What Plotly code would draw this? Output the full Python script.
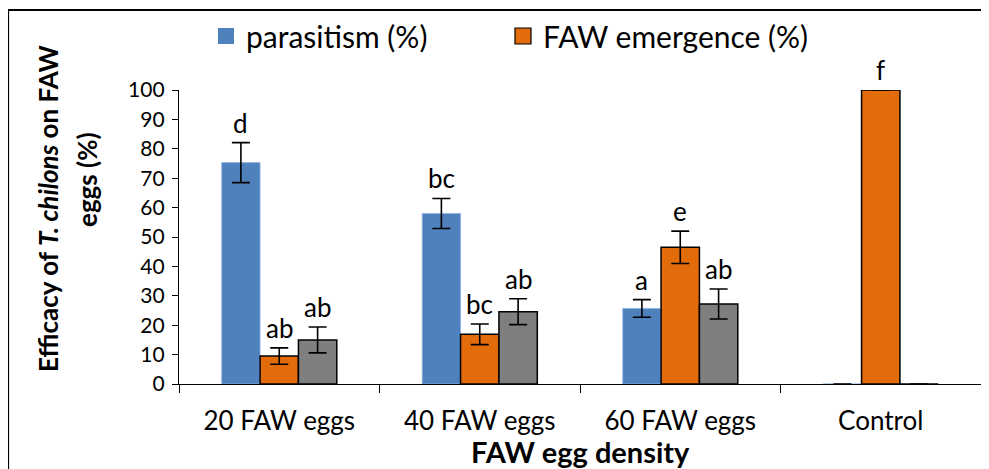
import plotly.graph_objects as go

categories = ["20 FAW eggs", "40 FAW eggs", "60 FAW eggs", "Control"]
parasitism = [75.3, 58.0, 25.7, 0]
parasitism_err = [6.8, 5.1, 3.0, 0]
emergence = [9.5, 16.9, 46.5, 100]
emergence_err = [2.8, 3.5, 5.5, 0]
third = [15.0, 24.6, 27.2, 0]
third_err = [4.4, 4.4, 5.1, 0]
letters_par = ["d", "bc", "a", ""]
letters_em = ["ab", "bc", "e", "f"]
letters_third = ["ab", "ab", "ab", ""]
y_ticks = [0, 10, 20, 30, 40, 50, 60, 70, 80, 90, 100]

BLUE = "#4F81BD"
ORANGE = "#E36C0A"
GRAY = "#7F7F7F"
FONT = "Lato"

OFF = 8  # page body margin
W, H = 989 - OFF, 469 - OFF
# plot area in page pixels: x 179..981, y 90..384
L, R, T, B = 179 - OFF, 989 - 981, 90 - OFF, 469 - 384
pw = W - L - R
ph = H - T - B
bargap = 0.426
bw = (1 - bargap) / 3

def px_x(p):  # page pixel -> paper
    return (p - OFF - L) / pw

def px_y(p):
    return (H - B - (p - OFF)) / ph

fig = go.Figure()
err_style = dict(type="data", thickness=1.6, width=9, color="black")
fig.add_trace(go.Bar(x=categories, y=parasitism, name="parasitism (%)",
                     marker=dict(color=BLUE, line=dict(color="#8EB4E3", width=0.8)),
                     error_y=dict(array=parasitism_err, **err_style), showlegend=False))
fig.add_trace(go.Bar(x=categories, y=emergence, name="FAW emergence (%)",
                     marker=dict(color=ORANGE, line=dict(color="black", width=1.5)),
                     error_y=dict(array=emergence_err, **err_style), showlegend=False))
fig.add_trace(go.Bar(x=categories, y=third, name="other (%)",
                     marker=dict(color=GRAY, line=dict(color="black", width=1.5)),
                     error_y=dict(array=third_err, **err_style), showlegend=False))

# legend entries
fig.add_trace(go.Scatter(x=[None], y=[None], mode="markers", name="parasitism (%)",
                         legend="legend",
                         marker=dict(symbol="square", size=16, color=BLUE,
                                     line=dict(width=0))))
fig.add_trace(go.Scatter(x=[None], y=[None], mode="markers", name="FAW emergence (%)",
                         legend="legend2",
                         marker=dict(symbol="square", size=16, color=ORANGE,
                                     line=dict(color="black", width=1.2))))

annotations = []
for series, errs, labels, k in [(parasitism, parasitism_err, letters_par, -1),
                                (emergence, emergence_err, letters_em, 0),
                                (third, third_err, letters_third, 1)]:
    for i, (v, e, lab) in enumerate(zip(series, errs, labels)):
        if not lab:
            continue
        annotations.append(dict(x=i + k * bw, y=v + e, xref="x", yref="y", text=lab,
                                showarrow=False, yanchor="bottom", yshift=2,
                                font=dict(family=FONT, size=26, color="black")))

annotations.append(dict(x=px_x(48), y=px_y(209), xref="paper", yref="paper",
                        text="<b>Efficacy of <i>T. chilons</i> on FAW</b>", textangle=-90,
                        showarrow=False, xanchor="center", yanchor="middle",
                        font=dict(family=FONT, size=26, color="black")))
annotations.append(dict(x=px_x(87), y=px_y(180), xref="paper", yref="paper",
                        text="<b>eggs (%)</b>", textangle=-90,
                        showarrow=False, xanchor="center", yanchor="middle",
                        font=dict(family=FONT, size=26, color="black")))
annotations.append(dict(x=px_x(580), y=px_y(451), xref="paper", yref="paper",
                        text="<b>FAW egg density</b>",
                        showarrow=False, xanchor="center", yanchor="middle",
                        font=dict(family=FONT, size=29, color="black")))

legend_style = dict(orientation="h", xanchor="left", yanchor="middle",
                    font=dict(family=FONT, size=30, color="black"),
                    bgcolor="rgba(0,0,0,0)", itemsizing="trace")

fig.update_layout(
    width=W, height=H,
    margin=dict(l=L, r=R, t=T, b=B, autoexpand=False),
    paper_bgcolor="white", plot_bgcolor="white",
    barmode="group", bargap=bargap, bargroupgap=0,
    font=dict(family=FONT, color="black"),
    showlegend=True,
    legend=dict(x=px_x(206), y=px_y(36), **legend_style),
    legend2=dict(x=px_x(503), y=px_y(36), **legend_style),
    xaxis=dict(type="category", showline=True, linecolor="black", linewidth=1.3,
               ticks="outside", tickson="boundaries", ticklen=8, tickcolor="black",
               tickwidth=1.3, tickfont=dict(family=FONT, size=26, color="black"),
               ticklabelstandoff=14,
               showgrid=False, zeroline=False),
    yaxis=dict(range=[0, 100], tickvals=y_ticks, showline=True, linecolor="black",
               linewidth=1.3, ticks="outside", ticklen=6, tickcolor="black", tickwidth=1.3,
               tickfont=dict(family=FONT, size=21, color="black"), showgrid=False,
               ticklabelstandoff=3, zeroline=False),
    annotations=annotations,
    shapes=[dict(type="rect", xref="paper", yref="paper",
                 x0=px_x(8), y0=px_y(10), x1=px_x(1100), y1=px_y(600),
                 line=dict(color="black", width=2.2), fillcolor="rgba(0,0,0,0)",
                 layer="above")],
)

fig.write_html("out.html")
